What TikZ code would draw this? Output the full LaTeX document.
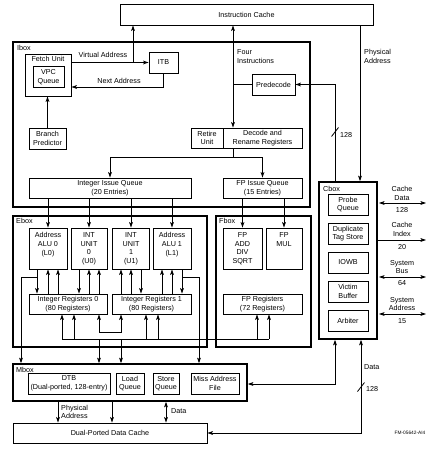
\documentclass[tikz,border=0pt]{standalone}
\usepackage{fontspec}
\setmainfont{Liberation Sans}
\usetikzlibrary{arrows.meta,calc}
\begin{document}
\begin{tikzpicture}[x=1pt,y=-1pt,
  >={Stealth[length=5.5pt,width=3.8pt,inset=1.2pt]},
  every node/.style={font=\fontsize{7.2}{8.6}\selectfont},
  wh/.style 2 args={minimum width=#1pt, minimum height=#2pt},
  ub/.style={draw, line width=0.9pt, inner sep=0pt, align=center},
  bigbox/.style={draw, line width=1.6pt, inner sep=0pt},
  txt/.style={inner sep=0pt, align=center},
  ln/.style={line width=0.8pt},
  arr/.style={ln,->},
  arrb/.style={ln,<->},
  tup/.style={<-},
  tdown/.style={->},
  smallfont/.style={font=\fontsize{4.8}{5.5}\selectfont}]
\useasboundingbox (0,0) rectangle (437,452);

% ---------- outer boxes ----------
\node[bigbox, wh={297}{165}] (ibox) at (161.5,124.5) {};
\node[bigbox, wh={194}{131}] (ebox) at (110,281.5) {};
\node[bigbox, wh={95}{131}] (fbox) at (263.5,281.5) {};
\node[bigbox, wh={58}{157}] (cbox) at (348,260.5) {};
\node[bigbox, wh={234}{37}] (mbox) at (130,382.5) {};
\node[txt, anchor=west] (iboxl) at (17,48) {Ibox};
\node[txt, anchor=west] (eboxl) at (16,221) {Ebox};
\node[txt, anchor=west] (fboxl) at (219,221) {Fbox};
\node[txt, anchor=west] (cboxl) at (323,189) {Cbox};
\node[txt, anchor=west] (mboxl) at (16,370) {Mbox};

% ---------- Instruction cache / Ibox ----------
\node[ub, wh={253}{21}] (ic) at (246.5,14.5) {Instruction Cache};
\node[ub, wh={46}{42}] (fetch) at (48,75) {};
\node[txt, anchor=north] (fetchl) at ([yshift=-2.5pt]fetch.north) {Fetch Unit};
\node[ub, wh={31}{21}] (vpc) at (48.5,77) {VPC\\Queue};
\node[ub, wh={29}{21}] (itb) at (163.5,62.5) {ITB};
\node[ub, wh={37}{21}] (bp) at (47.5,138.5) {Branch\\Predictor};
\node[ub, wh={32}{20}] (retire) at (207,138) {Retire\\Unit};
\node[ub, wh={79}{20}] (decode) at (262.5,138) {Decode and\\Rename Registers};
\node[ub, wh={43}{21}] (predec) at (273.5,84.5) {Predecode};
\node[ub, wh={162}{20}] (iiq) at (110,188) {Integer Issue Queue\\(20 Entries)};
\node[ub, wh={79}{20}] (fpiq) at (262.5,188) {FP Issue Queue\\(15 Entries)};

% ---------- Ebox ----------
\node[ub, wh={38}{41}] (alu0) at (48,248.5) {};
\node[ub, wh={36}{41}] (int0) at (89,248.5) {};
\node[ub, wh={37}{41}] (int1) at (131,248.5) {};
\node[ub, wh={38}{41}] (alu1) at (172,248.5) {};
\node[txt, anchor=north] (alu0t) at ([yshift=-5pt]alu0.north) {Address\\ALU 0\\(L0)};
\node[txt, anchor=north] (int0t) at ([yshift=-5pt]int0.north) {INT\\UNIT\\0\\(U0)};
\node[txt, anchor=north] (int1t) at ([yshift=-5pt]int1.north) {INT\\UNIT\\1\\(U1)};
\node[txt, anchor=north] (alu1t) at ([yshift=-5pt]alu1.north) {Address\\ALU 1\\(L1)};
\node[ub, wh={78}{20}] (regs0) at (68,304) {Integer Registers 0\\(80 Registers)};
\node[ub, wh={79}{20}] (regs1) at (151.5,304) {Integer Registers 1\\(80 Registers)};

% ---------- Fbox ----------
\node[ub, wh={39}{41}] (fpadd) at (242.5,248.5) {};
\node[ub, wh={36}{41}] (fpmul) at (284,248.5) {};
\node[txt, anchor=north] (fpaddt) at ([yshift=-5pt]fpadd.north) {FP\\ADD\\DIV\\SQRT};
\node[txt, anchor=north] (fpmult) at ([yshift=-5pt]fpmul.north) {FP\\MUL};
\node[ub, wh={79}{20}] (fpregs) at (262.5,304) {FP Registers\\(72 Registers)};

% ---------- Cbox ----------
\node[ub, wh={40}{21}] (probe) at (348,204.5) {Probe\\Queue};
\node[ub, wh={40}{21}] (dts) at (348,233.5) {Duplicate\\Tag Store};
\node[ub, wh={40}{21}] (iowb) at (348,262.5) {IOWB};
\node[ub, wh={40}{21}] (victim) at (348,291.5) {Victim\\Buffer};
\node[ub, wh={40}{21}] (arbiter) at (348,320.5) {Arbiter};

% ---------- Mbox ----------
\node[ub, wh={82}{21}] (dtb) at (69,383.5) {DTB\\(Dual-ported, 128-entry)};
\node[ub, wh={28}{21}] (loadq) at (130,383.5) {Load\\Queue};
\node[ub, wh={26}{21}] (storeq) at (166,383.5) {Store\\Queue};
\node[ub, wh={48}{21}] (maf) at (215,383.5) {Miss Address\\File};
\node[ub, wh={194}{20}] (dcache) at (110,433) {Dual-Ported Data Cache};

% ---------- Ibox connectors ----------
\coordinate (vj) at (133,62.5);
\draw[arr] (fetch.east |- itb.west) -- (itb.west);
\draw[arr] (vj) -- (vj |- ic.south);
\node[txt] (val) at (103,55) {Virtual Address};
\draw[arr] (itb.south) |- ([yshift=-12pt]fetch.east);
\node[txt] (nal) at (119,81) {Next Address};
\draw[arr] (bp.north) -- (bp.north |- fetch.south);

\coordinate (dj) at (233,84.5);
\draw[arrb] (dj |- ic.south) -- (dj |- decode.north);
\draw[ln] (dj) -- (predec.west);
\node[txt, anchor=west, align=left] (fil) at (237,56.5) {Four\\Instructions};

\coordinate (pj) at (335,132);
\draw[arr] (pj |- cbox.north) |- (predec.east);
\draw[ln] ([shift={(-3.5,4.5)}]pj) -- ([shift={(3.5,-4.5)}]pj);
\node[txt, anchor=west] (n128a) at (340,135) {128};

\coordinate (paj) at (360,0);
\draw[arr] (paj |- ic.south) -- (paj |- cbox.north);
\node[txt, anchor=west, align=left] (pal) at (364,56.5) {Physical\\Address};

\coordinate (qj) at (233,157);
\draw[ln] (qj |- decode.south) -- (qj);
\draw[arr] (qj) -| (iiq.north);
\draw[arr] (qj) -| (fpiq.north);

% ---------- issue queues to units ----------
\foreach \u in {alu0,int0,int1,alu1}
  \draw[arr] (iiq.south -| \u.north) -- (\u.north);
\foreach \u in {fpadd,fpmul}
  \draw[arr] (fpiq.south -| \u.north) -- (\u.north);

% ---------- units <-> registers ----------
\foreach \u/\r/\o/\t in {alu0/regs0/-11/tdown, alu0/regs0/0/tup, alu0/regs0/10/tup,
                          int0/regs0/-10/tdown, int0/regs0/0/tup, int0/regs0/10/tup,
                          int1/regs1/-10/tup, int1/regs1/0/tup, int1/regs1/10/tdown,
                          alu1/regs1/-10/tup, alu1/regs1/0/tup, alu1/regs1/10/tdown} {
  \path (\u.south) ++(\o,0) coordinate (tmp);
  \draw[ln,\t] (tmp) -- (tmp |- \r.north);
}

% L0 / L1 to Mbox
\coordinate (l0a) at (37,277);
\coordinate (l0b) at (21,0);
\draw[arr] (l0a) -| (l0b |- mbox.north);
\coordinate (l1a) at (182,277);
\coordinate (l1b) at (199,0);
\draw[arr] (l1a) -| (l1b |- mbox.north);

% register bus
\coordinate (bus0) at (62,339);
\coordinate (bus1) at (269,339);
\draw[ln] (bus0) -- (bus1);
\foreach \x/\r in {62/regs0, 74/regs0, 146/regs1, 158/regs1, 257/fpregs, 269/fpregs} {
  \path (\x,339) coordinate (tb);
  \draw[arr] (tb) -- (tb |- \r.south);
}
\coordinate (ua) at (99,332);
\coordinate (ubb) at (121,332);
\draw[arrb] (ua |- regs0.south) -- (ua) -- (ubb) -- (ubb |- regs1.south);
\coordinate (ma) at (99,339);
\coordinate (mb) at (121,339);
\draw[arr] (ma) -- (ma |- mbox.north);
\draw[arr] (mb) -- (mb |- mbox.north);

% ---------- Mbox to data cache ----------
\coordinate (pa) at (58,0);
\coordinate (pb) at (112,0);
\coordinate (pc) at (166,0);
\draw[arr] (pa |- mbox.south) -- (pa |- dcache.north);
\draw[arr] (pb |- mbox.south) -- (pb |- dcache.north);
\draw[arrb] (pc |- mbox.south) -- (pc |- dcache.north);
\node[txt, anchor=west, align=left] (dpal) at (61,412) {Physical\\Address};
\node[txt, anchor=west] (ddl) at (171,411.5) {Data};

% ---------- Cbox to Mbox / data cache ----------
\coordinate (cb1) at (335,384);
\draw[arrb] (cb1 |- cbox.south) -- (cb1) -- (cb1 -| mbox.east);
\coordinate (cb2) at (361,387);
\draw[arrb] (cb2 |- cbox.south) |- (dcache.east);
\draw[ln] ([shift={(-3.5,4.5)}]cb2) -- ([shift={(3.5,-4.5)}]cb2);
\node[txt, anchor=west] (cdl) at (364,367) {Data};
\node[txt, anchor=west] (n128b) at (366,389) {128};

% ---------- Cbox external ----------
\coordinate (rx) at (426,0);
\coordinate (r1) at (379,203);
\coordinate (r2) at (377,240);
\coordinate (r3) at (379,277);
\coordinate (r4) at (379,314);
\draw[arrb] (r1) -- (r1 -| rx);
\draw[arr] (r2) -- (r2 -| rx);
\draw[arrb] (r3) -- (r3 -| rx);
\draw[arrb] (r4) -- (r4 -| rx);
\node[txt] (l1) at (402,193.5) {Cache\\Data};
\node[txt] (v1) at (402,210) {128};
\node[txt] (l2) at (402,229.5) {Cache\\Index};
\node[txt] (v2) at (402,247) {20};
\node[txt] (l3) at (402,267) {System\\Bus};
\node[txt] (v3) at (402,283.5) {64};
\node[txt] (l4) at (402,304) {System\\Address};
\node[txt] (v4) at (402,321) {15};

\node[txt, smallfont] (fm) at (410,433) {FM-05642-AI4};
\end{tikzpicture}
\end{document}
